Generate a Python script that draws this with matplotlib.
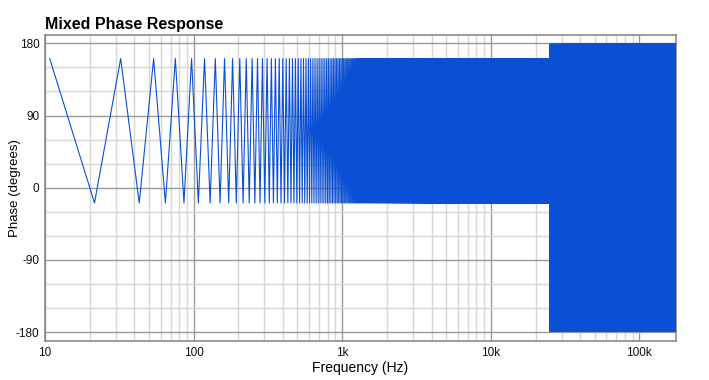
import numpy as np
import matplotlib
matplotlib.use("Agg")
import matplotlib.pyplot as plt
from matplotlib.ticker import FixedLocator, FixedFormatter, NullFormatter

# ---- data ----
bin_width_hz = 10.7666          # spacing of the analysis bins
n_bins = 16384                  # last bin = 176.4 kHz
transition_hz = 25000           # above this the phase fills the full range
low_band_phase = [161, -19]     # alternating values below the transition
high_band_top = [178, 175, 179, 177, 170, 178, 176, 179, 173, 177, 178, 172, 176]
high_band_bottom = [-179, -177, -178, -174, -179, -176, -178, -172, -179, -175, -177]

x_ticks = [10, 100, 1000, 10000, 100000]
x_tick_labels = ["10", "100", "1k", "10k", "100k"]
y_ticks = [-180, -90, 0, 90, 180]
y_tick_labels = ["-180", "-90", "0", "90", "180"]

# ---- build the series ----
k = np.arange(1, n_bins + 1)
freq = k * bin_width_hz
phase = np.empty_like(freq)
low = freq < transition_hz
phase[low] = np.where(k[low] % 2 == 1, low_band_phase[0], low_band_phase[1])
hi_idx = np.nonzero(~low)[0]
for j, i in enumerate(hi_idx):
    if j % 2 == 0:
        phase[i] = high_band_top[(j // 2) % len(high_band_top)]
    else:
        phase[i] = high_band_bottom[(j // 2) % len(high_band_bottom)]

# ---- plot ----
plt.rcParams['font.family'] = ['Liberation Sans', 'DejaVu Sans']
fig = plt.figure(figsize=(7.09, 3.8), dpi=100)
ax = fig.add_axes([45 / 709, 1 - 341 / 380, (676 - 45) / 709, (341 - 34.5) / 380])

ax.plot(freq, phase, color="#0b50d4", lw=0.8, zorder=3)

ax.set_xscale("log")
ax.set_xlim(10, n_bins * bin_width_hz)
ax.set_ylim(-191, 191)

ax.xaxis.set_major_locator(FixedLocator(x_ticks))
ax.xaxis.set_major_formatter(FixedFormatter(x_tick_labels))
minor_x = [m * d for d in [10, 100, 1000, 10000, 100000] for m in range(2, 10)]
ax.xaxis.set_minor_locator(FixedLocator(minor_x))
ax.xaxis.set_minor_formatter(NullFormatter())
ax.yaxis.set_major_locator(FixedLocator(y_ticks))
ax.yaxis.set_major_formatter(FixedFormatter(y_tick_labels))
ax.yaxis.set_minor_locator(FixedLocator([-150, -120, -60, -30, 30, 60, 120, 150]))

ax.grid(True, which="major", color="#9a9a9a", lw=1.0, zorder=1)
ax.grid(True, which="minor", color="#d6d6d6", lw=1.0, zorder=0)
ax.set_axisbelow(True)
ax.tick_params(which="both", length=0, labelsize=8.5, colors="#111111", pad=4)
for s in ax.spines.values():
    s.set_color("#8a8a8a")
    s.set_linewidth(1.2)

ax.set_xlabel("Frequency (Hz)", fontsize=10, labelpad=2)
fig.text(15 / 709, 1 - 188 / 380, "Phase (degrees)", fontsize=9.5,
         rotation=90, ha="center", va="center")
fig.text(45 / 709, 1 - 25 / 380, "Mixed Phase Response", fontsize=11.5,
         fontweight="bold", ha="left", va="center")

fig.savefig("out.png", dpi=100)
